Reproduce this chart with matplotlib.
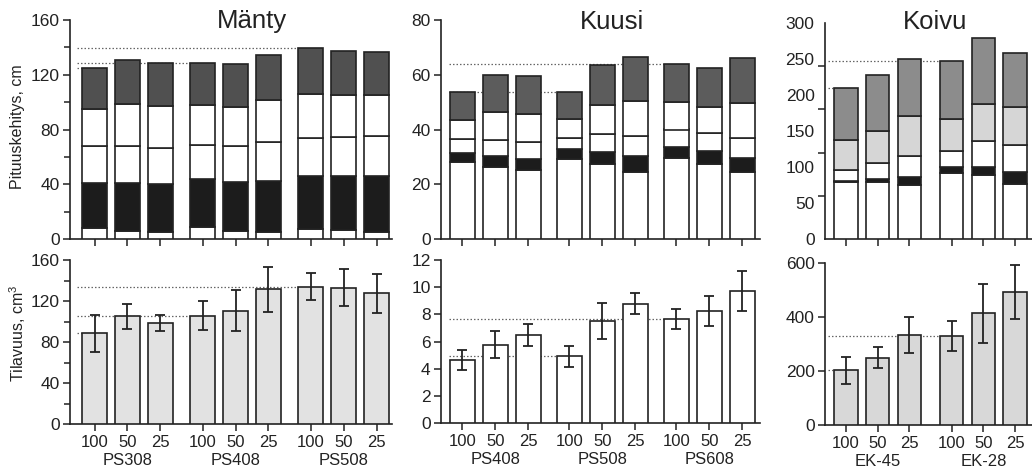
import matplotlib
matplotlib.use("Agg")
import matplotlib.pyplot as plt
import numpy as np

plt.rcParams['font.family'] = ['Liberation Sans', 'DejaVu Sans']
plt.rcParams['text.color'] = '#222222'
plt.rcParams['axes.labelcolor'] = '#222222'
plt.rcParams['xtick.color'] = '#222222'
plt.rcParams['ytick.color'] = '#222222'
plt.rcParams['mathtext.fontset'] = 'custom'
plt.rcParams['mathtext.rm'] = 'Liberation Sans'

treatments = ["100", "50", "25"]

# --- Mänty (pine) ---
manty_groups = ["PS308", "PS408", "PS508"]
# cumulative boundaries of the stacked height segments, cm
manty_b1 = [7.8, 6.1, 4.9, 9.0, 5.6, 5.4, 7.3, 6.6, 5.4]
manty_b2 = [40.8, 40.8, 40.3, 43.7, 41.5, 42.3, 45.9, 45.7, 45.7]
manty_b3 = [67.7, 67.9, 66.4, 68.9, 67.7, 70.6, 73.8, 74.3, 75.0]
manty_b4 = [94.8, 98.9, 97.0, 98.2, 96.2, 101.4, 105.8, 105.0, 105.0]
manty_b5 = [124.6, 130.7, 128.7, 128.7, 128.2, 134.3, 139.7, 137.5, 136.8]
manty_vol = [88.3, 104.9, 98.4, 105.6, 110.5, 131.6, 134.1, 132.9, 127.4]
manty_err = [18, 12, 8, 14, 20, 22, 13, 18, 19]

# --- Kuusi (spruce) ---
kuusi_groups = ["PS408", "PS508", "PS608"]
kuusi_b1 = [28.0, 26.3, 25.2, 29.1, 27.4, 24.4, 29.7, 27.3, 24.5]
kuusi_b2 = [31.4, 30.2, 29.2, 32.8, 31.9, 30.3, 33.6, 32.2, 29.5]
kuusi_b3 = [36.7, 36.0, 35.4, 36.9, 38.2, 37.8, 40.0, 38.9, 37.0]
kuusi_b4 = [43.6, 46.3, 45.5, 44.0, 49.0, 50.5, 50.2, 48.4, 49.5]
kuusi_b5 = [53.7, 59.8, 59.4, 53.6, 63.5, 66.5, 64.0, 62.6, 66.0]
kuusi_vol = [4.65, 5.76, 6.47, 4.92, 7.52, 8.79, 7.64, 8.25, 9.72]
kuusi_err = [0.75, 1.0, 0.8, 0.78, 1.33, 0.75, 0.75, 1.1, 1.45]

# --- Koivu (birch) ---
koivu_groups = ["EK-45", "EK-28"]
koivu_b1 = [79.6, 79.6, 75.0, 92.0, 89.2, 75.8]
koivu_b2 = [80.5, 83.0, 86.5, 100.0, 100.4, 92.5]
koivu_b3 = [95.7, 104.9, 115.0, 122.0, 135.8, 131.2]
koivu_b4 = [137.2, 149.7, 170.3, 166.7, 187.2, 183.5]
koivu_b5 = [210.0, 227.7, 250.0, 246.6, 279.7, 258.7]
koivu_vol = [202, 249, 332, 329, 413, 492]
koivu_err = [51, 40, 66, 55, 109, 99]

WHITE = "#ffffff"
BLACK = "#1c1c1c"
EDGE = "#222222"
LW = 1.2
YTICK_SIZE = 12.5
XTICK_SIZE = 12

W, H = 1032, 471
fig = plt.figure(figsize=(W / 100, H / 100), dpi=100)


def rect(x0, x1, y_bottom, y_top):
    return [x0 / W, 1 - y_bottom / H, (x1 - x0) / W, (y_bottom - y_top) / H]


def positions(n_groups, gap):
    pos = []
    for g in range(n_groups):
        for i in range(3):
            pos.append(g * (3 + gap - 1) + i)
    return np.array(pos, dtype=float)


def style_axes(ax, xpos, xlim):
    for s in ("top", "right"):
        ax.spines[s].set_visible(False)
    for s in ("left", "bottom"):
        ax.spines[s].set_linewidth(1.2)
        ax.spines[s].set_color(EDGE)
    ax.set_xlim(*xlim)
    ax.set_xticks(xpos)
    ax.tick_params(axis="both", direction="out", length=5, width=1.1)
    ax.tick_params(axis="y", labelsize=YTICK_SIZE, pad=2.5)
    ax.tick_params(axis="x", labelsize=XTICK_SIZE, pad=3)
    ax.tick_params(axis="y", which="minor", length=4, width=1.1)


def stacked(ax, xpos, bounds, colors, width):
    prev = np.zeros(len(xpos))
    for b, c in zip(bounds, colors):
        b = np.array(b)
        ax.bar(xpos, b - prev, bottom=prev, width=width, color=c,
               edgecolor=EDGE, linewidth=LW, zorder=3)
        prev = b


def ref_lines(ax, xpos, values, x_start, width):
    # dotted guides at the level of each group's first (100) bar
    n = len(values) // 3
    for g in range(n):
        i = g * 3
        ax.plot([x_start, xpos[i] - width / 2], [values[i], values[i]],
                linestyle=(0, (1.2, 1.6)), color="#666666", linewidth=0.9, zorder=1)


def vol_bars(ax, xpos, vals, errs, color, width):
    ax.bar(xpos, vals, width=width, color=color, edgecolor=EDGE,
           linewidth=LW, zorder=3)
    ax.errorbar(xpos, vals, yerr=errs, fmt="none", ecolor=EDGE,
                elinewidth=1.3, capsize=3.5, capthick=1.3, zorder=4)


def group_labels(ax, xpos, groups):
    for g, name in enumerate(groups):
        ax.annotate(name, xy=(xpos[g * 3 + 1], 0), xycoords=("data", "axes fraction"),
                    xytext=(0, -26.5), textcoords="offset points",
                    ha="center", va="center", fontsize=XTICK_SIZE, color="#222222")


# ---------- Mänty ----------
mpos = positions(3, 1.28)
mw = 0.76
mxlim = (-0.744, 9.03)
ax1 = fig.add_axes(rect(70, 392, 239, 20))
stacked(ax1, mpos, [manty_b1, manty_b2, manty_b3, manty_b4, manty_b5],
        [WHITE, BLACK, WHITE, WHITE, "#505050"], mw)
ref_lines(ax1, mpos, manty_b5, mxlim[0] + 0.2, mw)
ax1.set_ylim(0, 160)
ax1.set_yticks([0, 40, 80, 120, 160])
ax1.set_yticks([20, 60, 100, 140], minor=True)
style_axes(ax1, mpos, mxlim)
ax1.set_xticklabels([])

ax4 = fig.add_axes(rect(70, 392, 424, 260))
vol_bars(ax4, mpos, manty_vol, manty_err, "#e2e2e2", mw)
ref_lines(ax4, mpos, manty_vol, mxlim[0] + 0.2, mw)
ax4.set_ylim(0, 160)
ax4.set_yticks([0, 40, 80, 120, 160])
ax4.set_yticks([20, 60, 100, 140], minor=True)
style_axes(ax4, mpos, mxlim)
ax4.set_xticklabels(treatments * 3)
group_labels(ax4, mpos, manty_groups)

# ---------- Kuusi ----------
kpos = positions(3, 1.24)
kw = 0.75
kxlim = (-0.65, 9.02)
ax2 = fig.add_axes(rect(441, 760, 239, 20))
stacked(ax2, kpos, [kuusi_b1, kuusi_b2, kuusi_b3, kuusi_b4, kuusi_b5],
        [WHITE, BLACK, WHITE, WHITE, "#5c5c5c"], kw)
ref_lines(ax2, kpos, kuusi_b5, kxlim[0] + 0.25, kw)
ax2.set_ylim(0, 80)
ax2.set_yticks([0, 20, 40, 60, 80])
style_axes(ax2, kpos, kxlim)
ax2.set_xticklabels([])

ax5 = fig.add_axes(rect(441, 760, 423, 260))
vol_bars(ax5, kpos, kuusi_vol, kuusi_err, WHITE, kw)
ref_lines(ax5, kpos, kuusi_vol, kxlim[0] + 0.25, kw)
ax5.set_ylim(0, 12)
ax5.set_yticks(np.arange(0, 13, 2))
style_axes(ax5, kpos, kxlim)
ax5.set_xticklabels(treatments * 3)
group_labels(ax5, kpos, kuusi_groups)

# ---------- Koivu ----------
bpos = positions(2, 1.34)
bw = 0.74
bxlim = (-0.656, 5.87)
ax3 = fig.add_axes(rect(825, 1032, 239, 23))
stacked(ax3, bpos, [koivu_b1, koivu_b2, koivu_b3, koivu_b4, koivu_b5],
        [WHITE, BLACK, WHITE, "#d6d6d6", "#8c8c8c"], bw)
ref_lines(ax3, bpos, koivu_b5, bxlim[0] + 0.1, bw)
ax3.set_ylim(0, 300)
ax3.set_yticks(np.arange(0, 301, 50))
ax3.set_yticks(np.arange(0, 301, 60), minor=True)
style_axes(ax3, bpos, bxlim)
ax3.tick_params(axis="y", which="major", length=0, pad=7.5)
ax3.tick_params(axis="y", which="minor", length=5)
ax3.set_xticklabels([])

ax6 = fig.add_axes(rect(825, 1032, 425, 262.7))
vol_bars(ax6, bpos, koivu_vol, koivu_err, "#d8d8d8", bw)
ref_lines(ax6, bpos, koivu_vol, bxlim[0] + 0.1, bw)
ax6.set_ylim(0, 600)
ax6.set_yticks([0, 200, 400, 600])
style_axes(ax6, bpos, bxlim)
ax6.set_xticklabels(treatments * 2)
group_labels(ax6, bpos, koivu_groups)

# titles and axis labels
fig.text(252 / W, 1 - 21 / H, "Mänty", ha="center", va="center", fontsize=18.5)
fig.text(612 / W, 1 - 22 / H, "Kuusi", ha="center", va="center", fontsize=18.5)
fig.text(935 / W, 1 - 22 / H, "Koivu", ha="center", va="center", fontsize=18.5)
fig.text(18 / W, 1 - 127 / H, "Pituuskehitys, cm", rotation=90,
         ha="center", va="center", fontsize=11.5)
fig.text(18 / W, 1 - 333 / H, "Tilavuus, cm$^3$", rotation=90,
         ha="center", va="center", fontsize=11.5)

fig.savefig("out.png", dpi=100)
